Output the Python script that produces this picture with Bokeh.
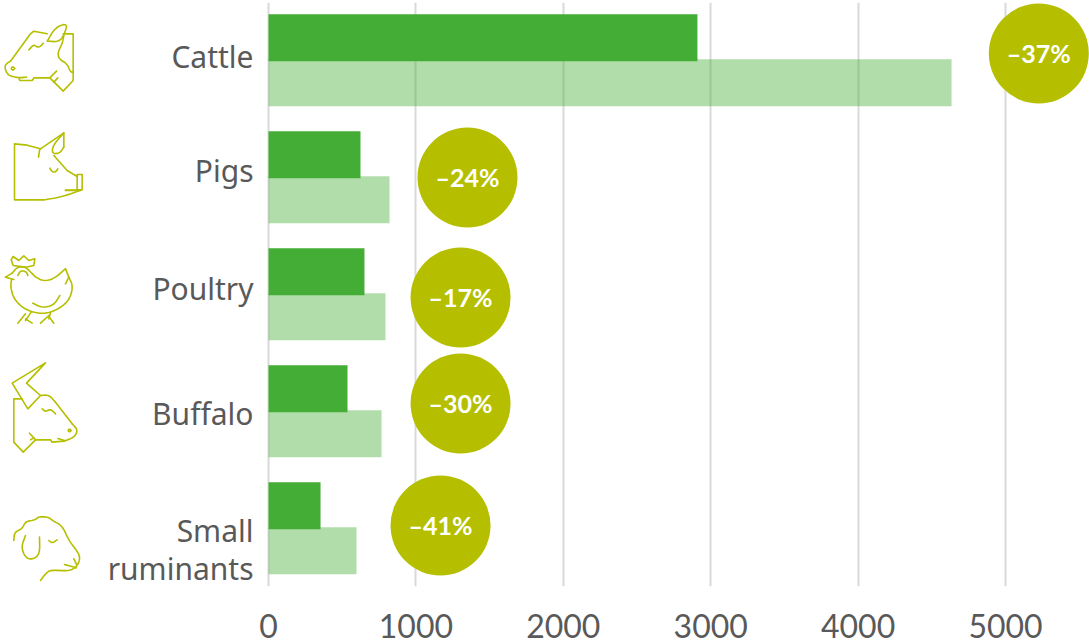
from bokeh.embed import file_html
from bokeh.core.properties import value
from bokeh.models import FixedTicker, Range1d
from bokeh.plotting import figure
from bokeh.resources import INLINE

# Livestock categories, top to bottom, with the two emission figures and the drop between them
categories = ["Cattle", "Pigs", "Poultry", "Buffalo", "Small\nruminants"]
current = [2910, 624, 651, 536, 353]
baseline = [4634, 821, 794, 767, 597]
change_labels = ["–37%", "–24%", "–17%", "–30%", "–41%"]
tick_values = [0, 1000, 2000, 3000, 4000, 5000]

# Badge centres along the value axis and in page pixels
badge_x = [5226, 1350, 1303, 1303, 1167]
badge_y = [53, 177, 297, 403, 525]
# Vertical centre of each category label, page pixels
label_y = [56, 170, 288, 413, 549]

DARK = "#44AD35"
BADGE = "#B5BF00"
INK = "#595959"
FONT = "Noto Sans"

W, H = 1089, 644
TOP, BOTTOM = 2, 586
ZERO_PX, PX_PER_UNIT = 268.0, 0.1474
ROW0, ROW_STEP = 59.7, 117.0
BAR_OFFSET, BAR_HEIGHT = 22.5 / ROW_STEP, 47 / ROW_STEP

p = figure(
    width=W, height=H, output_backend="svg", toolbar_location=None,
    x_range=Range1d(-ZERO_PX / PX_PER_UNIT, (W - ZERO_PX) / PX_PER_UNIT),
    y_range=Range1d((BOTTOM - ROW0) / ROW_STEP, (TOP - ROW0) / ROW_STEP),
    min_border_left=0, min_border_right=0, min_border_top=TOP, min_border_bottom=H - BOTTOM,
    outline_line_color=None, background_fill_color="white", border_fill_color="white",
)

# Page-pixel ranges for the labels, badges and pictograms
p.extra_x_ranges["page_x"] = Range1d(0, W)
p.extra_y_ranges["page_y"] = Range1d(BOTTOM, TOP)

p.yaxis.visible = False
p.ygrid.visible = False
p.xgrid.ticker = FixedTicker(ticks=tick_values)
p.xgrid.grid_line_color = "#D9D9D9"
p.xgrid.grid_line_width = 2

ax = p.xaxis[0]
ax.ticker = FixedTicker(ticks=tick_values)
ax.axis_line_color = None
ax.major_tick_line_color = None
ax.minor_tick_line_color = None
ax.major_label_text_font = "Lato"
ax.major_label_text_font_size = "32px"
ax.major_label_text_color = INK
ax.major_label_standoff = 21

rows = list(range(len(categories)))
p.hbar(y=[r + BAR_OFFSET for r in rows], left=0, right=baseline, height=BAR_HEIGHT,
       color=DARK, alpha=0.417, line_color=None)
p.hbar(y=[r - BAR_OFFSET for r in rows], left=0, right=current, height=BAR_HEIGHT,
       color=DARK, line_color=None)

# Category names, right-aligned against the zero line
for name, cy in zip(categories, label_y):
    p.text(x=[ZERO_PX - 15], y=[cy], text=[name], x_range_name="page_x", y_range_name="page_y",
           text_font=value(FONT), text_font_size="30px", text_color=INK,
           text_align="right", text_baseline="middle", text_line_height=0.93)

p.scatter(x=badge_x, y=badge_y, y_range_name="page_y", size=100, marker="circle",
          color=BADGE, line_color=None)
p.text(x=badge_x, y=badge_y, text=change_labels, y_range_name="page_y", y_offset=-1,
       text_font=value("Lato"), text_font_style="bold", text_font_size="25px",
       text_color="white", text_align="center", text_baseline="middle")


def smooth(path, rounds=2):
    """Corner-cut a polyline so hand-placed outlines read as curves."""
    for _ in range(rounds):
        out = [path[0]]
        for (a, b), (c, d) in zip(path, path[1:]):
            out += [(0.75 * a + 0.25 * c, 0.75 * b + 0.25 * d),
                    (0.25 * a + 0.75 * c, 0.25 * b + 0.75 * d)]
        out.append(path[-1])
        path = out
    return path


def ring(cx, cy, r):
    return [(cx + r, cy), (cx, cy - r), (cx - r, cy), (cx, cy + r), (cx + r, cy)]


# Pictogram outlines, sketched on a 3x grid; each entry is (y shift, straight paths, curved paths)
COW = (0, [
    [(188, 100), (218, 100), (218, 240), (188, 272), (148, 232), (100, 232), (95, 240), (58, 240), (55, 232)],
    [(168, 212), (148, 232)], [(160, 245), (172, 232)],
    [(140, 100), (100, 92), (90, 100), (30, 182)],
], [
    [(30, 182), (14, 192), (14, 208), (25, 226), (55, 232), (78, 230)],
    [(140, 122), (165, 80), (202, 68), (190, 105), (175, 124), (140, 122)],
    [(190, 105), (185, 130), (172, 155), (175, 175), (200, 190), (210, 215), (218, 215)],
    [(85, 148), (100, 132), (110, 140), (120, 138), (128, 128)],
    ring(37, 204, 6),
])
PIG = (0, [
    [(120, 445), (80, 434), (42, 430), (42, 598), (130, 598)],
    [(120, 445), (190, 397), (190, 440)],
    [(160, 465), (200, 510), (230, 528)],
    [(230, 522), (245, 522), (245, 568), (230, 568), (230, 522)],
    [(195, 569), (240, 569)], [(195, 570), (240, 570)],
], [
    [(130, 598), (170, 592), (205, 582), (238, 570)],
    [(190, 440), (178, 458), (155, 460), (157, 435), (190, 397)],
    [(118, 445), (114, 470)],
    [(148, 503), (155, 514), (165, 515), (172, 505)],
])
HEN = (230, [
    [(32, 88), (38, 78), (55, 90), (70, 76), (85, 90), (103, 85), (100, 105), (75, 110), (38, 105), (32, 88)],
    [(15, 140), (40, 147)], [(15, 140), (35, 128)],
    [(92, 245), (75, 270)], [(75, 250), (52, 278)], [(75, 265), (95, 278)],
    [(150, 247), (145, 265)], [(145, 255), (120, 278)], [(145, 258), (160, 278)],
    [(195, 115), (205, 140)], [(195, 160), (205, 140)],
], [
    [(35, 128), (50, 110), (72, 108), (88, 122), (105, 140), (130, 152), (160, 145), (195, 115)],
    [(205, 140), (217, 165), (210, 200), (190, 225), (150, 247), (110, 249), (70, 235), (40, 205), (30, 170), (33, 147)],
    [(97, 218), (125, 232), (160, 224), (178, 195)],
    [(52, 135), (60, 120), (78, 124), (82, 135)],
])
BUFFALO = (230, [
    [(135, 397), (35, 458), (82, 535), (120, 495), (78, 458), (135, 397)],
    [(65, 505), (40, 505), (40, 635), (68, 665), (105, 628), (87, 608)],
    [(105, 628), (150, 628), (155, 635), (190, 632)],
    [(165, 515), (215, 580)],
    [(172, 624), (192, 630)], [(90, 628), (100, 622)],
], [
    [(120, 495), (145, 493), (165, 515)],
    [(215, 580), (232, 598), (222, 620), (190, 632)],
    [(125, 535), (135, 544), (150, 535), (165, 550)],
    ring(207, 600, 5),
])
SHEEP = (460, [], [
    [(40, 240), (42, 215), (65, 205), (75, 183), (105, 178), (115, 168), (145, 170), (155, 180), (185, 195),
     (205, 240), (225, 265), (240, 290), (230, 318), (205, 332), (150, 328), (135, 340), (120, 360)],
    [(75, 225), (62, 260), (75, 292), (98, 297), (118, 280), (117, 230)],
    [(145, 240), (155, 248), (170, 238)],
    [(192, 312), (228, 322)], [(220, 295), (228, 312)],
])

for shift, straight, curved in (COW, PIG, HEN, BUFFALO, SHEEP):
    paths = straight + [smooth(c) for c in curved]
    p.multi_line(xs=[[pt[0] / 3 for pt in path] for path in paths],
                 ys=[[pt[1] / 3 + shift for pt in path] for path in paths],
                 x_range_name="page_x", y_range_name="page_y",
                 line_color=BADGE, line_width=1.6, line_join="round", line_cap="round")

open("out.html", "w").write(file_html(p, INLINE))
